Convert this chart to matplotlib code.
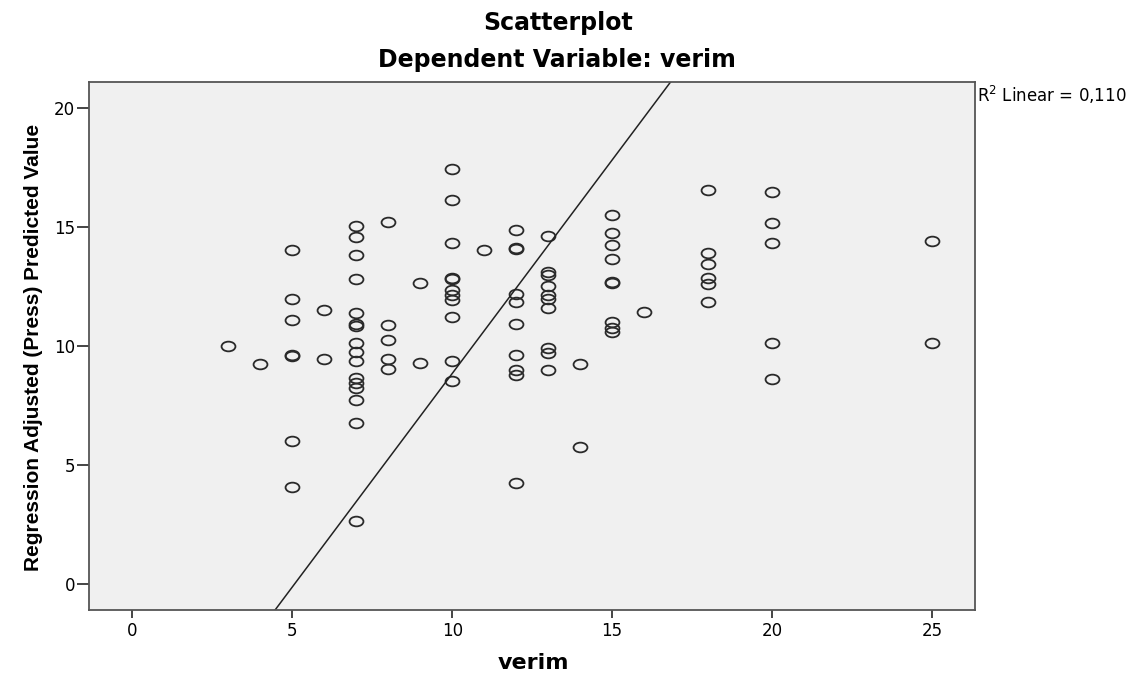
import matplotlib
matplotlib.use("Agg")
import numpy as np
from matplotlib import pyplot as plt
from matplotlib.path import Path
from matplotlib.transforms import Affine2D

# verim (x) and regression adjusted (press) predicted value (y)
verim = [
    3, 4,
    5, 5, 5, 5, 5, 5, 5,
    6, 6,
    7, 7, 7, 7, 7, 7, 7, 7, 7, 7, 7, 7, 7, 7, 7, 7,
    8, 8, 8, 8, 8,
    9, 9,
    10, 10, 10, 10, 10, 10, 10, 10, 10, 10, 10,
    11,
    12, 12, 12, 12, 12, 12, 12, 12, 12, 12,
    13, 13, 13, 13, 13, 13, 13, 13, 13, 13,
    14, 14,
    15, 15, 15, 15, 15, 15, 15, 15, 15,
    16,
    18, 18, 18, 18, 18, 18,
    20, 20, 20, 20, 20,
    25, 25,
]
predicted = [
    10.02, 9.25,
    14.05, 12.0, 11.1, 9.63, 9.58, 6.01, 4.07,
    11.52, 9.46,
    15.03, 14.6, 13.82, 12.8, 11.38, 10.95, 10.85, 10.15, 9.77, 9.36, 8.66, 8.45, 8.24, 7.74, 6.76, 2.65,
    15.22, 10.9, 10.25, 9.45, 9.05,
    12.67, 9.31,
    17.45, 16.12, 14.33, 12.88, 12.82, 12.35, 12.15, 11.95, 11.24, 9.36, 8.52,
    14.05,
    14.87, 14.12, 14.08, 12.2, 11.87, 10.93, 9.64, 9.0, 8.79, 4.23,
    14.63, 13.1, 12.98, 12.53, 12.15, 12.0, 11.59, 9.9, 9.72, 9.0,
    9.24, 5.77,
    15.49, 14.75, 14.27, 13.67, 12.7, 12.65, 11.03, 10.75, 10.6,
    11.43,
    16.57, 13.9, 13.46, 12.88, 12.6, 11.86,
    16.47, 15.17, 14.34, 10.12, 8.62,
    14.42, 10.15,
]
x_ticks = [0, 5, 10, 15, 20, 25]
y_ticks = [0, 5, 10, 15, 20]

# fit line as drawn in the chart
fit_intercept = -9.09
fit_slope = 1.794
r2_text = r"R$^2$ Linear = 0,110"


def main():
    plt.rcParams["mathtext.default"] = "regular"
    plt.rcParams["font.family"] = ["DejaVu Sans"]

    W, H = 1144, 677
    fig = plt.figure(figsize=(W / 100, H / 100), dpi=100)
    ax = fig.add_axes([89 / W, 1 - 610 / H, (975 - 89) / W, (610 - 82) / H])
    ax.set_facecolor("#f0f0f0")

    # slightly flattened circle, like the stretched SPSS marker
    ellipse = Path.unit_circle().transformed(Affine2D().scale(1.0, 0.7))
    ax.plot(verim, predicted, linestyle="none", marker=ellipse, markersize=10,
            markerfacecolor="none", markeredgecolor="#2a2a2a", markeredgewidth=1.3)

    xs = np.array([-2.0, 28.0])
    ax.plot(xs, fit_intercept + fit_slope * xs, color="#222222", linewidth=1.1)

    ax.set_xlim(-1.36, 26.35)
    ax.set_ylim(-1.09, 21.1)
    ax.set_xticks(x_ticks)
    ax.set_yticks(y_ticks)
    ax.tick_params(axis="x", length=6, width=1.4, color="#444444", pad=3, labelsize=12)
    ax.tick_params(axis="y", length=9, width=1.4, color="#444444", pad=1, labelsize=12)
    for s in ax.spines.values():
        s.set_color("#555555")
        s.set_linewidth(1.3)

    fig.text(558 / W, 1 - 23 / H, "Scatterplot", ha="center", va="center",
             fontsize=17, fontweight="bold")
    fig.text(557 / W, 1 - 60 / H, "Dependent Variable: verim", ha="center", va="center",
             fontsize=17, fontweight="bold")
    fig.text(533 / W, 1 - 663 / H, "verim", ha="center", va="center",
             fontsize=16, fontweight="bold")
    fig.text(34 / W, 1 - 347 / H, "Regression Adjusted (Press) Predicted Value",
             rotation=90, ha="center", va="center", fontsize=15, fontweight="bold",
             family=["Liberation Sans", "DejaVu Sans"])
    fig.text(977 / W, 1 - 95 / H, r2_text, ha="left", va="center", fontsize=12)

    fig.savefig("out.png", dpi=100)


if __name__ == "__main__":
    main()
